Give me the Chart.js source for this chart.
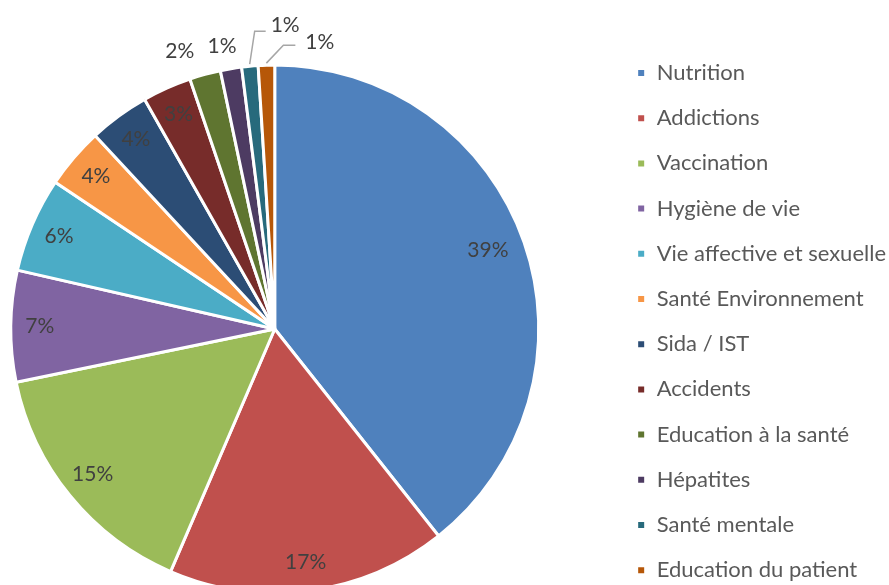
<!DOCTYPE html>
<html>
<head>
<meta charset="utf-8">
<script src="https://cdn.jsdelivr.net/npm/chart.js@4"></script>
<style>
  html, body { margin: 0; padding: 0; background: #fff; overflow: hidden; }
  body { width: 889px; height: 585px; position: relative; }
  #wrap { position: absolute; left: -64px; top: 0; width: 960px; height: 658px; }
</style>
</head>
<body>
<div id="wrap"><canvas id="pieTheme"></canvas></div>
<script>
// thèmes abordés (parts en %)
const themes = [
  "Nutrition", "Addictions", "Vaccination", "Hygiène de vie",
  "Vie affective et sexuelle", "Santé Environnement", "Sida / IST",
  "Accidents", "Education à la santé", "Hépatites", "Santé mentale",
  "Education du patient"
];
const shares = [39.3, 17.1, 15.3, 6.8, 5.8, 3.7, 3.7, 3.0, 1.9, 1.3, 1.0, 1.0];

const colors = [
  "#4F81BD", "#C0504D", "#9BBB59", "#8064A2", "#4BACC6", "#F79646",
  "#2C4D75", "#772C2A", "#5F7530", "#4D3B62", "#276A7C", "#B65708"
];

// where each percentage goes (inside slice, just outside, or with a leader line)
const placement = [
  { r: 0.855, dy: -5 }, { r: 0.89 }, { r: 0.89, dy: -3 }, { r: 0.89 }, { r: 0.89 }, { r: 0.89 },
  { r: 0.89 }, { r: 0.89 },
  { r: 1.09, dx: -19, dy: 0 },
  { r: 1.09, dx: -5, dy: 1 },
  { leader: [5, -33], run: 11, tx: 5, ty: -6 },
  { leader: [17, -18], run: 12, tx: 10, ty: -3 }
];

const FONT = "Lato, 'Open Sans', sans-serif";

const sliceLabels = {
  id: "sliceLabels",
  afterDatasetsDraw(chart) {
    const ctx = chart.ctx;
    const meta = chart.getDatasetMeta(0);
    const total = shares.reduce((a, b) => a + b, 0);
    ctx.save();
    ctx.font = "21px " + FONT;
    ctx.fillStyle = "#404040";
    ctx.textBaseline = "middle";
    meta.data.forEach((arc, i) => {
      const { x, y, startAngle, endAngle, outerRadius } =
        arc.getProps(["x", "y", "startAngle", "endAngle", "outerRadius"], true);
      const mid = (startAngle + endAngle) / 2;
      const txt = Math.round(shares[i] / total * 100) + "%";
      const p = placement[i];
      if (p.leader) {
        const sx = x + (outerRadius + 2) * Math.cos(mid);
        const sy = y + (outerRadius + 2) * Math.sin(mid);
        const ex = sx + p.leader[0], ey = sy + p.leader[1];
        ctx.strokeStyle = "#A6A6A6";
        ctx.lineWidth = 1.5;
        ctx.beginPath();
        ctx.moveTo(sx, sy);
        ctx.lineTo(ex, ey);
        ctx.lineTo(ex + p.run, ey);
        ctx.stroke();
        ctx.textAlign = "left";
        ctx.fillText(txt, ex + p.run + p.tx, ey + p.ty);
      } else {
        const lx = x + outerRadius * p.r * Math.cos(mid) + (p.dx || 0);
        const ly = y + outerRadius * p.r * Math.sin(mid) + (p.dy || 0);
        ctx.textAlign = "center";
        ctx.fillText(txt, lx, ly);
      }
    });
    ctx.restore();
  }
};

new Chart(document.getElementById("pieTheme"), {
  type: "pie",
  data: {
    labels: themes,
    datasets: [{
      data: shares,
      backgroundColor: colors,
      borderColor: "#fff",
      borderWidth: 3,
      radius: 264
    }]
  },
  options: {
    responsive: true,
    maintainAspectRatio: false,
    animation: false,
    radius: 264,
    layout: { padding: 0 },
    plugins: {
      legend: {
        position: "right",
        align: "start",
        title: { display: true, text: "", font: { size: 10 }, padding: { top: 26.8, bottom: 0 } },
        labels: {
          boxWidth: 9,
          boxHeight: 9,
          padding: 23.2,
          color: "#595959",
          font: { family: FONT, size: 22 }
        }
      },
      tooltip: { enabled: false }
    }
  },
  plugins: [sliceLabels]
});
</script>
</body>
</html>
